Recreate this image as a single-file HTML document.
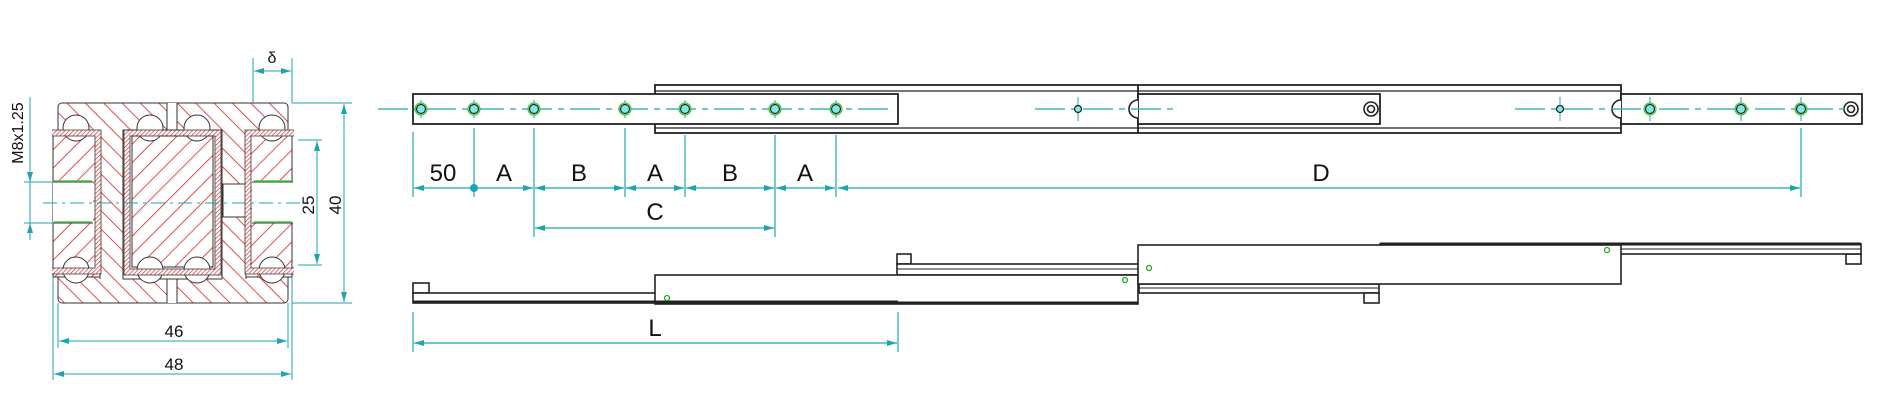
<!DOCTYPE html>
<html><head><meta charset="utf-8"><style>
html,body{margin:0;padding:0;background:#fff;width:1900px;height:408px;overflow:hidden}
svg{display:block}
text{font-family:"Liberation Sans",sans-serif;fill:#111}
</style></head><body>
<svg width="1900" height="408" viewBox="0 0 1900 408" xmlns="http://www.w3.org/2000/svg">
<defs>
<pattern id="h" patternUnits="userSpaceOnUse" width="13" height="13" patternTransform="rotate(-45)">
<rect width="13" height="13" fill="#fff"/><line x1="0" y1="0" x2="0" y2="13" stroke="#e02020" stroke-width="1.6"/></pattern>
<pattern id="h2" patternUnits="userSpaceOnUse" width="13" height="13" patternTransform="rotate(45)">
<rect width="13" height="13" fill="#fff"/><line x1="0" y1="0" x2="0" y2="13" stroke="#e02020" stroke-width="1.6"/></pattern>
<pattern id="hc" patternUnits="userSpaceOnUse" width="3" height="3" patternTransform="rotate(45)">
<rect width="3" height="3" fill="#fff"/><line x1="0" y1="0" x2="0" y2="3" stroke="#e02020" stroke-width="1.3"/></pattern>
<marker id="a" viewBox="0 0 10 6" refX="10" refY="3" markerWidth="10" markerHeight="6" orient="auto-start-reverse" markerUnits="userSpaceOnUse"><path d="M0,0L10,3L0,6z" fill="#1aa6b0"/></marker>
</defs>

<!-- ============ CROSS SECTION ============ -->
<g stroke="#333" stroke-width="1">
<rect x="58" y="103" width="230" height="200" rx="4" fill="url(#h)"/>
<rect x="53" y="132" width="47" height="145" fill="url(#h2)"/>
<rect x="246" y="132" width="46" height="145" fill="url(#h2)"/>
<rect x="167" y="103" width="10" height="29" fill="#fff" stroke="none"/>
<rect x="167" y="277" width="10" height="26" fill="#fff" stroke="none"/>
<line x1="167" y1="103" x2="167" y2="132"/><line x1="177" y1="103" x2="177" y2="132"/>
<line x1="167" y1="277" x2="167" y2="303"/><line x1="177" y1="277" x2="177" y2="303"/>
<rect x="123" y="130" width="99" height="149" fill="#fff"/>
<rect x="132" y="136" width="81" height="131" fill="url(#h2)"/>
<rect x="53" y="182" width="40" height="41" fill="#fff" stroke="none"/>
<rect x="252" y="182" width="41" height="41" fill="#fff" stroke="none"/>
<rect x="223" y="184" width="24" height="33" fill="#fff"/>
<line x1="100" y1="130" x2="100" y2="279"/><line x1="246" y1="130" x2="246" y2="279"/>
<line x1="53" y1="182" x2="93" y2="182"/><line x1="53" y1="223" x2="93" y2="223"/>
<line x1="252" y1="182" x2="293" y2="182"/><line x1="252" y1="223" x2="293" y2="223"/>
</g>
<g stroke="#4c4" stroke-width="1.5">
<line x1="54" y1="181" x2="92" y2="181"/><line x1="54" y1="222" x2="92" y2="222"/>
<line x1="254" y1="181" x2="292" y2="181"/><line x1="254" y1="222" x2="292" y2="222"/>
</g>
<g fill="#fff" stroke="#333" stroke-width="1">
<circle cx="76" cy="128" r="13"/><circle cx="150" cy="128" r="13"/><circle cx="197" cy="128" r="13"/><circle cx="272" cy="128" r="13"/>
<circle cx="76" cy="270" r="13"/><circle cx="150" cy="270" r="13"/><circle cx="197" cy="270" r="13"/><circle cx="272" cy="270" r="13"/>
</g>
<g fill="none" stroke="url(#hc)" stroke-width="5">
<path d="M52,133H98V271H52"/>
<path d="M294,133H248V271H294"/>
<rect x="127" y="133" width="91" height="139"/>
</g>
<g fill="none" stroke="#333" stroke-width="0.8">
<path d="M52,130H101V274H52"/><path d="M52,136H95V268H52"/>
<path d="M294,130H245V274H294"/><path d="M294,136H251V268H294"/>
<rect x="124" y="130" width="97" height="145"/><rect x="130" y="136" width="85" height="133"/>
</g>
<!-- cross-section dims -->
<g stroke="#1aa6b0" stroke-width="1" fill="none">
<line x1="43" y1="203" x2="300" y2="203" stroke-dasharray="14,5,3,5"/>
<line x1="253" y1="58" x2="253" y2="103"/><line x1="292" y1="58" x2="292" y2="103"/>
<line x1="254" y1="71" x2="291" y2="71" marker-start="url(#a)" marker-end="url(#a)"/>
<line x1="292" y1="103" x2="352" y2="103"/><line x1="292" y1="303" x2="352" y2="303"/>
<line x1="344" y1="104" x2="344" y2="302" marker-start="url(#a)" marker-end="url(#a)"/>
<line x1="298" y1="140" x2="322" y2="140"/><line x1="298" y1="265" x2="322" y2="265"/>
<line x1="317" y1="141" x2="317" y2="264" marker-start="url(#a)" marker-end="url(#a)"/>
<line x1="30" y1="97" x2="30" y2="225"/>
<line x1="30" y1="166" x2="30" y2="182" marker-end="url(#a)"/>
<line x1="30" y1="240" x2="30" y2="223" marker-end="url(#a)"/>
<line x1="24" y1="182" x2="52" y2="182"/><line x1="24" y1="223" x2="52" y2="223"/>
<line x1="58" y1="303" x2="58" y2="348"/><line x1="288" y1="303" x2="288" y2="348"/>
<line x1="59" y1="341" x2="287" y2="341" marker-start="url(#a)" marker-end="url(#a)"/>
<line x1="53" y1="277" x2="53" y2="380"/><line x1="292" y1="277" x2="292" y2="380"/>
<line x1="54" y1="374" x2="291" y2="374" marker-start="url(#a)" marker-end="url(#a)"/>
</g>
<text x="272" y="63" font-size="16" text-anchor="middle">δ</text>
<text x="174" y="337" font-size="17" text-anchor="middle">46</text>
<text x="174" y="370" font-size="17" text-anchor="middle">48</text>
<text transform="translate(341,205) rotate(-90)" font-size="17" text-anchor="middle">40</text>
<text transform="translate(314,205) rotate(-90)" font-size="17" text-anchor="middle">25</text>
<text transform="translate(23,133) rotate(-90)" font-size="16" text-anchor="middle">M8x1.25</text>

<!-- ============ TOP VIEW ============ -->
<g fill="#fff" stroke="#222" stroke-width="1.8">
<rect x="655" y="85" width="966" height="48"/>
<line x1="655" y1="91" x2="1621" y2="91" stroke-width="1.2"/>
<line x1="655" y1="128" x2="1621" y2="128" stroke-width="1.2"/>
<line x1="1138" y1="85" x2="1138" y2="133"/>
<rect x="1138" y="94" width="242" height="30"/>
<rect x="1621" y="94" width="241" height="30"/>
<rect x="413" y="94" width="485" height="30"/>
</g>
<g fill="#fff" stroke="#222" stroke-width="1.6">
<path d="M1138,100A9,9 0 0 0 1138,118"/>
<path d="M1621,100A9,9 0 0 0 1621,118"/>
<circle cx="1371" cy="109" r="7"/><circle cx="1371" cy="109" r="3.5"/>
<circle cx="1851" cy="109" r="7"/><circle cx="1851" cy="109" r="3.5"/>
</g>
<g stroke="#1aa6b0" stroke-width="1.2" fill="none">
<line x1="378" y1="109" x2="890" y2="109" stroke-dasharray="30,6,6,6"/>
<line x1="1035" y1="109" x2="1175" y2="109" stroke-dasharray="30,6,6,6"/>
<line x1="1515" y1="109" x2="1845" y2="109" stroke-dasharray="30,6,6,6"/>
</g>
<g stroke="#1aa6b0" stroke-width="1">
<line x1="421" y1="100" x2="421" y2="118"/><line x1="474" y1="100" x2="474" y2="118"/><line x1="534" y1="100" x2="534" y2="118"/>
<line x1="625" y1="100" x2="625" y2="118"/><line x1="685" y1="100" x2="685" y2="118"/><line x1="775" y1="100" x2="775" y2="118"/><line x1="836" y1="100" x2="836" y2="118"/>
<line x1="1078" y1="97" x2="1078" y2="121"/><line x1="1560" y1="97" x2="1560" y2="121"/>
<line x1="1650" y1="97" x2="1650" y2="121"/><line x1="1741" y1="97" x2="1741" y2="121"/><line x1="1801" y1="97" x2="1801" y2="121"/>
</g>
<g fill="#7ee8e8" stroke="#222" stroke-width="1.2">
<circle cx="421" cy="109" r="4.5"/><circle cx="474" cy="109" r="4.5"/><circle cx="534" cy="109" r="4.5"/><circle cx="625" cy="109" r="4.5"/>
<circle cx="685" cy="109" r="4.5"/><circle cx="775" cy="109" r="4.5"/><circle cx="836" cy="109" r="4.5"/>
<circle cx="1650" cy="109" r="4.5"/><circle cx="1741" cy="109" r="4.5"/><circle cx="1801" cy="109" r="4.5"/>
<circle cx="1078" cy="109" r="3.5"/><circle cx="1560" cy="109" r="3.5"/>
</g>
<g fill="none" stroke="#3c3" stroke-width="1.2">
<circle cx="421" cy="109" r="6"/><circle cx="474" cy="109" r="6"/><circle cx="534" cy="109" r="6"/><circle cx="625" cy="109" r="6"/>
<circle cx="685" cy="109" r="6"/><circle cx="775" cy="109" r="6"/><circle cx="836" cy="109" r="6"/>
<circle cx="1650" cy="109" r="6"/><circle cx="1741" cy="109" r="6"/><circle cx="1801" cy="109" r="6"/>
</g>
<!-- top dims -->
<g stroke="#1aa6b0" stroke-width="1.2" fill="none">
<line x1="413" y1="132" x2="413" y2="197"/><line x1="474" y1="128" x2="474" y2="197"/>
<line x1="534" y1="128" x2="534" y2="237"/><line x1="625" y1="128" x2="625" y2="197"/>
<line x1="685" y1="135" x2="685" y2="197"/><line x1="775" y1="135" x2="775" y2="237"/>
<line x1="836" y1="135" x2="836" y2="197"/><line x1="1801" y1="128" x2="1801" y2="197"/>
<line x1="414" y1="188" x2="473" y2="188" marker-start="url(#a)"/>
<line x1="475" y1="188" x2="533" y2="188" marker-end="url(#a)"/>
<line x1="535" y1="188" x2="624" y2="188" marker-start="url(#a)" marker-end="url(#a)"/>
<line x1="626" y1="188" x2="684" y2="188" marker-start="url(#a)" marker-end="url(#a)"/>
<line x1="686" y1="188" x2="774" y2="188" marker-start="url(#a)" marker-end="url(#a)"/>
<line x1="776" y1="188" x2="835" y2="188" marker-start="url(#a)" marker-end="url(#a)"/>
<line x1="838" y1="188" x2="1800" y2="188" marker-start="url(#a)" marker-end="url(#a)"/>
<line x1="535" y1="228" x2="774" y2="228" marker-start="url(#a)" marker-end="url(#a)"/>
<line x1="413" y1="312" x2="413" y2="352"/><line x1="898" y1="312" x2="898" y2="352"/>
<line x1="414" y1="343" x2="897" y2="343" marker-start="url(#a)" marker-end="url(#a)"/>
</g>
<circle cx="474" cy="188" r="4" fill="#1aa6b0"/>
<g font-size="24" text-anchor="middle">
<text x="443" y="181">50</text><text x="504" y="181">A</text><text x="579" y="181">B</text>
<text x="655" y="181">A</text><text x="730" y="181">B</text><text x="805" y="181">A</text>
<text x="1321" y="181">D</text><text x="655" y="220">C</text><text x="655" y="336">L</text>
</g>

<!-- ============ SIDE VIEW ============ -->
<g fill="#fff" stroke="#222" stroke-width="1.6">
<rect x="413" y="283" width="16" height="10"/>
<rect x="413" y="293" width="485" height="10"/>
<rect x="897" y="254" width="14" height="10"/>
<rect x="897" y="264" width="242" height="11"/>
<rect x="1139" y="284" width="240" height="9"/>
<rect x="1364" y="293" width="15" height="10"/>
<rect x="1846" y="254" width="15" height="10"/>
<rect x="1380" y="244" width="481" height="10"/>
<rect x="655" y="275" width="483" height="29"/>
<rect x="1138" y="245" width="483" height="39"/>
</g>
<g stroke="#222" stroke-width="3">
<line x1="413" y1="302" x2="898" y2="302"/>
<line x1="655" y1="303" x2="1138" y2="303"/>
<line x1="1380" y1="244" x2="1861" y2="244"/>
</g>
<line x1="897" y1="269" x2="1138" y2="269" stroke="#222" stroke-width="1"/>
<line x1="1139" y1="288" x2="1379" y2="288" stroke="#222" stroke-width="1"/>
<line x1="1621" y1="249" x2="1861" y2="249" stroke="#222" stroke-width="1"/>
<g fill="none" stroke="#2a2" stroke-width="1.3">
<circle cx="667" cy="298" r="2.5"/><circle cx="1149" cy="268" r="2.5"/><circle cx="1125" cy="280" r="2.5"/><circle cx="1607" cy="250" r="2.5"/>
</g>
</svg>
</body></html>
